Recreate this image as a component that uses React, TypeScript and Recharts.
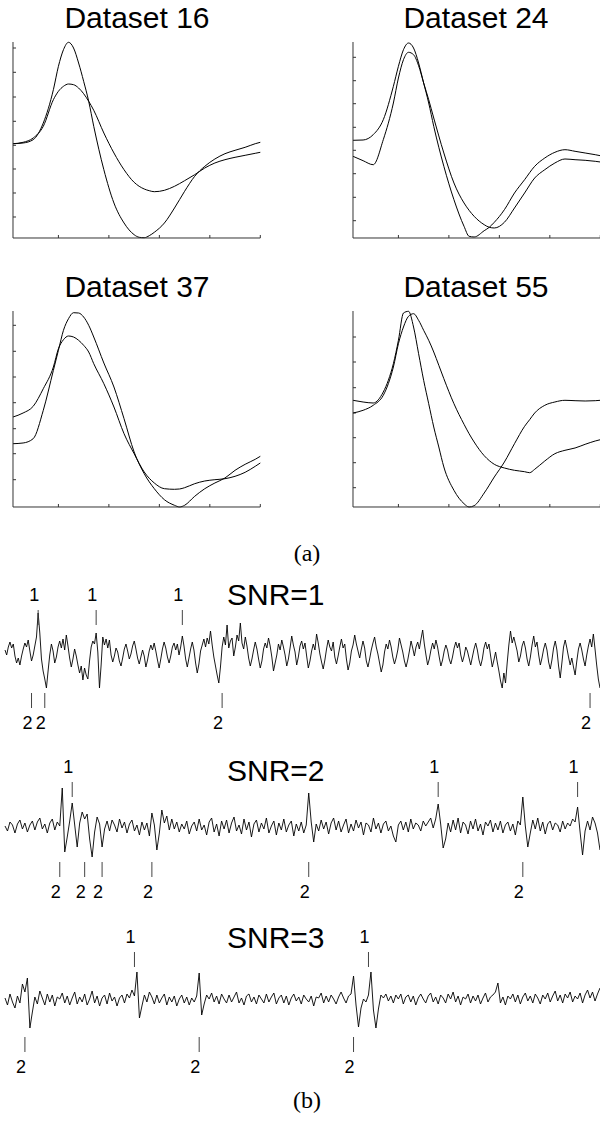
import React from 'react';
import { LineChart, Line, XAxis, YAxis, ComposedChart, Scatter, ReferenceLine } from 'recharts';

// ---------- (a) average waveforms, sample index 1..50 ----------
const X_TICKS = [10, 20, 30, 40, 50];

const d16X = [1, 3, 5, 7, 9, 10, 11, 12, 13, 14, 15, 16, 17, 19, 21, 23, 25, 26, 27, 28, 29, 31, 33, 35, 37, 39, 41, 43, 45, 47, 49, 50];
const d16A = [9.43, 9.5, 9.83, 11.5, 14.83, 17.17, 18.83, 19.57, 19.0, 17.5, 15.67, 13.67, 11.17, 6.83, 3.5, 1.5, 0.33, 0.07, 0.03, 0.23, 0.57, 1.5, 3.0, 4.67, 6.17, 7.17, 7.9, 8.43, 8.77, 9.07, 9.43, 9.57];
const d16B = [9.43, 9.57, 10.0, 11.17, 13.83, 14.67, 15.17, 15.4, 15.33, 15.0, 14.43, 13.67, 12.77, 10.5, 8.5, 6.83, 5.57, 5.17, 4.9, 4.73, 4.63, 4.77, 5.17, 5.73, 6.33, 7.0, 7.5, 7.83, 8.07, 8.27, 8.47, 8.57];
const d16Ticks = [2.1, 4.5, 6.9, 9.27, 11.67, 14.1, 16.57, 19.0];

const d24X = [1, 3, 5, 7, 9, 10, 11, 12, 13, 14, 15, 16, 17, 19, 21, 23, 24, 25, 27, 28, 29, 31, 33, 35, 37, 39, 41, 43, 45, 47, 49, 50];
const d24A = [9.77, 9.8, 10.33, 11.83, 15.17, 17.17, 18.83, 19.5, 19.0, 17.5, 15.5, 13.5, 11.17, 7.17, 3.83, 1.17, 0.17, 0.1, 0.73, 1.07, 1.57, 2.83, 4.5, 5.83, 7.17, 8.0, 8.57, 8.83, 8.67, 8.5, 8.33, 8.23];
const d24B = [8.17, 7.73, 7.33, 9.83, 13.5, 16.0, 17.83, 18.57, 18.33, 17.23, 15.5, 13.83, 12.0, 8.5, 5.5, 3.5, 2.77, 2.17, 1.33, 1.07, 1.0, 1.57, 3.0, 4.5, 6.0, 6.83, 7.5, 7.9, 7.83, 7.77, 7.67, 7.6];
const d24Ticks = [1.73, 4.07, 6.43, 8.77, 11.07, 13.43, 15.73, 18.07];

const d37X = [1, 3, 5, 7, 9, 10, 11, 12, 13, 14, 15, 16, 17, 19, 21, 23, 25, 27, 29, 31, 33, 34, 35, 37, 39, 41, 43, 45, 47, 49, 50];
const d37A = [6.33, 6.4, 6.83, 9.67, 13.67, 15.67, 17.67, 18.83, 19.43, 19.4, 19.0, 18.17, 17.0, 14.4, 12.0, 8.83, 5.5, 3.33, 1.83, 0.73, 0.17, 0, 0.17, 1.07, 1.83, 2.4, 2.9, 3.67, 4.27, 4.77, 5.07];
const d37B = [9.0, 9.4, 10.07, 11.83, 14.0, 15.83, 16.73, 17.1, 17.0, 16.67, 16.17, 15.5, 14.33, 12.33, 10.0, 7.33, 5.33, 3.5, 2.4, 1.83, 1.77, 1.8, 1.93, 2.33, 2.6, 2.73, 2.83, 3.07, 3.47, 4.07, 4.4];
const d37Ticks = [2.73, 5.33, 7.83, 10.43, 13.0, 15.57, 18.17];

const d55X = [1, 3, 5, 7, 8, 9, 10, 11, 12, 13, 14, 15, 16, 17, 18, 19, 21, 23, 24, 25, 27, 29, 31, 33, 35, 36, 37, 39, 41, 43, 45, 47, 49, 50];
const d55A = [10.67, 10.5, 10.4, 11.5, 12.67, 14.33, 16.67, 19.4, 19.57, 18.0, 15.33, 12.67, 10.33, 8.0, 6.0, 4.0, 1.67, 0.33, 0, 0.13, 1.4, 3.0, 4.5, 6.33, 8.07, 8.73, 9.4, 10.17, 10.5, 10.67, 10.63, 10.6, 10.63, 10.67];
const d55B = [9.4, 9.67, 10.17, 11.17, 12.33, 14.0, 16.33, 18.0, 19.07, 19.33, 18.67, 17.67, 16.67, 15.5, 14.17, 12.83, 10.33, 8.27, 7.33, 6.5, 5.13, 4.27, 3.9, 3.67, 3.53, 3.43, 3.77, 4.6, 5.33, 5.67, 5.9, 6.27, 6.6, 6.73];
const d55Ticks = [1.93, 4.43, 6.93, 9.4, 11.93, 14.5, 17.0];

// ---------- (b) noisy recordings ----------
const snr1 = [
  0.3, -0.2, 0.6, 1.1, 0.5, 0.9, -0.3, -1.0, -0.5, -1.2,
  -0.3, 0.4, 1.0, 0.6, 1.3, 0.2, -0.8, -0.2, 0.7, 1.6,
  4.0, 2.0, -0.6, -1.8, -2.6, -3.5, -1.8, -0.2, 0.9, 0.2,
  -1.0, -0.4, 0.6, 1.2, 0.5, 1.4, 0.3, 1.8, 0.7, -0.5,
  -1.4, -0.6, 0.4, -0.3, -1.2, -2.0, -1.3, -2.7, -1.5, -2.2,
  -2.6, -0.8, 0.6, 1.2, 0.9, 2.0, 0.1, -3.5, -1.2, 1.6,
  0.8, 1.4, 0.5, 1.3, -0.2, -0.9, -0.3, 0.5, 0.1, -0.8,
  -1.3, -0.5, 0.4, 0.9, 0.2, -0.6, -0.1, 0.7, 1.2, 0.4,
  -0.5, -1.1, -0.4, 0.3, -0.3, -1.4, -0.7, 0.2, 0.8, 0.3,
  1.0, 0.2, -0.7, -1.5, -0.6, 0.4, 1.1, 0.5, -0.4, -1.0,
  -0.3, 0.6, 1.0, 0.3, 0.9, -0.2, 0.6, 1.7, 0.7, -0.6,
  -1.4, -0.5, 0.4, 1.1, 0.3, -1.0, -2.0, -1.1, 0.2, 0.8,
  1.4, 0.6, 1.5, 0.9, 2.2, 0.8, -0.4, -1.3, -2.2, -3.0,
  -1.4, 0.6, 1.6, 0.8, 2.8, 0.5, 1.2, 1.5, -0.3, 0.6,
  1.8, 1.2, 3.0, 1.0, 0.4, 1.6, 0.7, -0.5, -1.3, -0.6,
  0.3, 1.1, 0.4, -0.6, -1.5, -0.8, 0.4, 1.0, 0.5, 1.5,
  0.7, -0.4, -1.8, -1.0, -0.2, 0.9, 0.3, 1.3, 0.6, -0.2,
  -1.3, -0.6, 0.5, 1.7, 0.8, 0.1, -1.2, -0.4, 0.7, 1.2,
  0.4, 1.0, -0.3, -1.5, -0.8, 0.2, 0.9, 0.3, 1.9, 1.0,
  -0.1, -0.9, -1.6, -0.7, 0.4, 1.3, 0.6, 0.2, 1.1, -0.4,
  -1.1, -0.3, 0.6, 1.4, 0.5, 0.9, -0.6, -1.7, -1.0, 0.2,
  0.8, 1.8, 0.9, 0.2, -0.5, 0.4, 1.2, 0.5, -0.8, -1.4,
  -0.6, 0.3, 1.0, 1.6, 0.6, -0.1, -1.0, -1.9, -1.2, 0.1,
  0.9, 0.4, 1.3, 0.6, -0.4, -1.1, -0.5, 0.3, 1.5, 0.8,
  0.1, -0.8, -1.4, -0.7, 0.2, 1.2, 0.5, -0.3, 0.6, 1.1,
  0.4, 1.4, 2.3, 0.9, -0.2, -1.2, -0.6, 0.3, 1.0, 0.4,
  1.3, 0.6, -0.4, -1.3, -0.7, 0.2, 0.8, 0.3, -0.6, -1.1,
  -0.4, 0.5, 1.1, 0.5, 1.0, -0.2, -0.9, -0.3, 0.6, 0.2,
  -0.5, -1.2, -0.4, 0.4, 1.0, 0.3, -0.7, -1.3, -0.6, 0.5,
  1.1, 0.4, 0.9, -0.3, -1.4, -0.7, 0.1, -0.9, -1.8, -2.8,
  -3.5, -2.0, -3.0, -1.0, 0.8, 2.2, 1.0, 1.6, 0.9, 0.2,
  -0.9, -0.3, 0.7, 1.2, 0.5, -0.6, -1.3, -0.4, 0.8, 1.7,
  0.6, 1.1, -0.2, -1.2, -0.5, 0.4, 1.0, 0.3, -0.9, -1.6,
  -0.7, 0.5, 1.2, 0.3, -1.3, -2.5, -1.0, 0.6, 1.3, 0.5,
  -0.4, -1.2, -0.5, -1.4, -2.2, -0.8, 0.4, 1.0, 0.3, -0.6,
  -1.3, -0.2, 0.7, 1.4, 0.6, 1.9, 0.4, -1.2, -2.6, -3.5,
];
const snr1Ones = [20, 55, 107];
const snr1Twos = [16, 24, 131, 353];

const snr2 = [
  0.1, -0.4, 0.5, 0.2, -0.6, 0.3, 0.7, -0.2, 0.4, -0.5,
  0.2, 0.6, -0.3, 0.5, 0.9, -0.2, 0.3, -0.6, 0.4, 0.8,
  -0.3, 0.5, 0.1, 3.9, -2.5, -1.0, 0.6, 2.4, 0.2, -2.0,
  0.4, 1.5, 0.8, 1.3, -1.2, -3.0, -0.5, 1.0, 0.3, -2.0,
  -0.2, 0.6, -0.4, 0.7, 0.2, -0.5, 0.8, -0.1, 0.5, -0.6,
  0.3, 0.7, -0.4, 0.2, -0.8, 0.5, -0.3, 0.4, -0.9, 1.4,
  0.2, -2.3, -0.6, 1.7, 0.4, 1.1, -0.3, 0.8, -0.2, 0.5,
  -0.5, 0.3, -0.2, 0.6, -0.7, 0.1, 0.5, -0.4, 0.8, -0.3,
  0.2, -0.8, 0.5, 0.9, -0.5, 0.3, -0.9, 0.6, -0.2, 0.7,
  -0.6, 0.4, 1.0, -0.4, 0.2, -0.7, 0.8, -0.3, 0.5, -1.0,
  0.3, 0.7, -0.5, 0.4, -0.2, 0.9, -0.6, 0.1, 0.6, -0.8,
  0.4, -0.3, 0.8, -0.5, 0.2, 0.6, -0.9, 0.3, -0.4, 0.5,
  -0.6, 0.2, 3.4, 0.5, -1.5, 0.3, -0.4, 0.7, -0.2, 0.5,
  -0.7, 0.4, 0.9, -0.3, 0.6, -0.5, 0.2, 0.8, -0.6, 0.3,
  -0.4, 0.7, -0.1, 0.5, -0.8, 0.4, 0.2, -0.5, 0.9, -0.2,
  0.4, -0.6, 0.3, 0.6, -0.4, 0.1, -0.9, -1.5, 0.2, 0.6,
  -0.3, 0.5, -0.5, 0.8, -0.2, 0.4, 0.2, -0.4, 0.6, 0.1,
  0.5, 0.9, -0.1, 0.8, 2.3, 0.3, -2.1, -1.2, 0.4, -0.5,
  0.7, -0.3, 0.9, -0.6, 0.5, 0.2, -0.7, 0.6, -0.2, 0.8,
  -0.4, 0.3, -0.8, 0.5, 0.1, 0.7, -0.5, 0.4, -0.3, 0.6,
  -0.6, 0.2, 0.5, -0.4, 0.3, -0.8, 0.6, 0.2, 3.0, 0.1,
  -2.0, -0.6, 0.7, -0.2, 0.9, -0.4, 0.5, -0.7, 0.3, 0.6,
  -0.3, 0.4, 0.2, -0.5, 0.6, -0.2, 0.4, 0.1, 0.8, 0.5,
  2.0, -0.5, -2.8, -0.4, 0.6, -0.3, 1.0, 0.4, -0.6, -2.3,
];
const snr2Ones = [27, 174, 230];
const snr2Twos = [22, 32, 39, 59, 122, 208];

const snr3 = [
  0.2, -0.5, 0.6, -0.2, -0.8, 0.4, -0.3, 1.6, 0.8, 2.2,
  -2.8, -1.2, 0.3, -0.4, 0.9, 0.2, -0.5, 0.6, -0.2, 0.5,
  -0.6, 0.3, 0.1, 0.7, -0.3, 0.4, -0.5, 0.2, 0.8, -0.4,
  0.3, -0.2, 0.6, -0.5, 0.1, 0.9, -0.3, 0.4, -0.6, 0.2,
  0.5, -0.4, 0.7, -0.1, 0.3, -0.6, 0.2, 0.5, -0.3, 0.6,
  0.2, 1.0, 0.4, 2.8, -1.8, -0.6, 0.5, -0.2, 0.8, 0.3,
  -0.4, 0.5, -0.3, 0.2, 0.6, -0.5, 0.3, -0.2, 0.4, -0.6,
  0.1, 0.5, -0.3, 0.3, -0.5, 0.2, -0.2, 0.4, 2.7, -1.5,
  -0.4, 0.5, 0.1, 0.7, -0.2, 0.4, -0.4, 0.6, 0.1, -0.3,
  0.5, -0.2, 0.3, 0.8, -0.3, 0.2, -0.5, 0.4, 0.6, -0.2,
  0.3, -0.4, 0.5, 0.1, -0.3, 0.6, -0.2, 0.3, 0.7, -0.4,
  0.2, 0.5, -0.3, 0.4, -0.5, 0.2, 0.6, -0.1, 0.3, -0.4,
  0.5, 0.1, -0.2, 0.4, -0.6, 0.3, 0.2, 0.7, -0.3, 0.4,
  -0.2, 0.5, 0.1, -0.4, 0.3, 0.8, 0.2, -0.3, 0.4, 0.6,
  2.4, -0.5, -2.7, -0.8, 0.1, -0.2, 0.5, 2.8, -1.0, -2.8,
  -0.9, 0.5, 0.2, 0.6, -0.1, 0.4, -0.3, 0.5, 0.1, 0.6,
  -0.4, 0.3, 0.5, -0.2, 0.4, -0.5, 0.2, 0.6, 0.1, -0.3,
  0.4, 0.7, -0.2, 0.3, -0.4, 0.5, 0.2, -0.3, 0.6, 0.1,
  0.8, -0.2, 0.4, -0.5, 0.3, 0.1, 0.6, -0.3, 0.4, -0.1,
  0.5, -0.4, 0.2, 0.7, -0.2, 0.3, 0.5, 0.8, 1.7, -0.3,
  0.3, -0.5, 0.4, 0.1, 0.6, -0.2, 0.5, -0.4, 0.3, 0.7,
  -0.1, 0.4, -0.3, 0.6, 0.2, -0.4, 0.5, 0.1, 0.7, -0.2,
  0.4, 0.9, -0.1, 0.5, -0.3, 0.6, 0.2, 0.8, -0.2, 0.4,
  0.1, 0.7, -0.3, 0.5, 1.0, 0.2, 0.8, -0.1, 0.6, 1.2,
];
const snr3Ones = [52, 146];
const snr3Twos = [8, 78, 140];

const SANS = '"Liberation Sans", Arial, sans-serif';
const SERIF = '"Liberation Serif", "Times New Roman", serif';

const PLOT_W = 247.3;
const PLOT_H = 196;
const PAD = 4;
const AXIS = '#333';

type PanelProps = { x: number[]; a: number[]; b: number[]; yTicks: number[]; left: number; top: number };

const Panel = ({ x, a, b, yTicks, left, top }: PanelProps) => {
  const data = x.map((xi, k) => ({ x: xi, a: a[k], b: b[k] }));
  return (
    <div style={{ position: 'absolute', left: left - PAD, top: top - PAD }}>
      <LineChart width={PLOT_W + 2 * PAD} height={PLOT_H + 2 * PAD} data={data}
        margin={{ top: PAD, right: PAD, bottom: PAD - 1, left: PAD - 1 }}>
        <XAxis dataKey="x" type="number" domain={[1, 50]} ticks={X_TICKS} interval={0}
          height={1} tick={false} tickLine={false} stroke={AXIS} />
        <YAxis type="number" domain={[0, 19.6]} ticks={yTicks} interval={0}
          width={1} tick={false} tickLine={false} stroke={AXIS} />
        {/* inward tick marks */}
        {X_TICKS.map((t) => (
          <ReferenceLine key={`xt${t}`} segment={[{ x: t, y: 0 }, { x: t, y: 0.3 }]} stroke={AXIS} strokeWidth={1} />
        ))}
        {yTicks.map((t) => (
          <ReferenceLine key={`yt${t}`} segment={[{ x: 1, y: t }, { x: 1.6, y: t }]} stroke={AXIS} strokeWidth={1} />
        ))}
        <Line type="monotone" dataKey="a" stroke="#000" strokeWidth={1} dot={false} isAnimationActive={false} />
        <Line type="monotone" dataKey="b" stroke="#000" strokeWidth={1} dot={false} isAnimationActive={false} />
      </LineChart>
    </div>
  );
};

// event markers: "1" above the trace, "2" below
const MarkOne = (p: any) => (
  <g>
    <line x1={p.cx} y1={p.cy} x2={p.cx} y2={p.cy + 15} stroke="#444" strokeWidth={1} />
    <text x={p.cx - 4} y={p.cy - 9} textAnchor="middle" fontSize={18} fontFamily={SANS} fill="#000">1</text>
  </g>
);
const MarkTwo = (p: any) => (
  <g>
    <line x1={p.cx} y1={p.cy} x2={p.cx} y2={p.cy + 15} stroke="#444" strokeWidth={1} />
    <text x={p.cx - 4} y={p.cy + 36} textAnchor="middle" fontSize={18} fontFamily={SANS} fill="#000">2</text>
  </g>
);

type TraceProps = { values: number[]; ones: number[]; twos: number[]; oneLevel: number; twoLevel: number; top: number };

const Trace = ({ values, ones, twos, oneLevel, twoLevel, top }: TraceProps) => {
  const data = values.map((v, i) => ({ i, v }));
  const onePts = ones.map((i) => ({ i, v: oneLevel }));
  const twoPts = twos.map((i) => ({ i, v: twoLevel }));
  return (
    <div style={{ position: 'absolute', left: 0, top }}>
      <ComposedChart width={600} height={170} data={data} margin={{ top: 0, right: 0, bottom: 0, left: 5 }}>
        <XAxis dataKey="i" type="number" domain={[0, values.length - 1]} hide />
        <YAxis type="number" domain={[-9, 8]} hide />
        <Line type="linear" dataKey="v" stroke="#000" strokeWidth={0.9} dot={false} isAnimationActive={false} />
        <Scatter data={onePts} dataKey="v" shape={MarkOne} isAnimationActive={false} />
        <Scatter data={twoPts} dataKey="v" shape={MarkTwo} isAnimationActive={false} />
      </ComposedChart>
    </div>
  );
};

export default function App() {
  return (
    <div style={{ position: 'fixed', left: 0, top: 0, width: 600, height: 1121, background: '#fff', overflow: 'hidden' }}>
      <Panel x={d16X} a={d16A} b={d16B} yTicks={d16Ticks} left={12.7} top={42.3} />
      <Panel x={d24X} a={d24A} b={d24B} yTicks={d24Ticks} left={352.7} top={42.3} />
      <Panel x={d37X} a={d37A} b={d37B} yTicks={d37Ticks} left={12.7} top={310.7} />
      <Panel x={d55X} a={d55A} b={d55B} yTicks={d55Ticks} left={352.7} top={310.7} />

      <Trace values={snr1} ones={snr1Ones} twos={snr1Twos} oneLevel={4.3} twoLevel={-4.0} top={573} />
      <Trace values={snr2} ones={snr2Ones} twos={snr2Twos} oneLevel={4.5} twoLevel={-3.5} top={747} />
      <Trace values={snr3} ones={snr3Ones} twos={snr3Twos} oneLevel={4.8} twoLevel={-3.7} top={920} />

      <svg width={600} height={1121} style={{ position: 'absolute', left: 0, top: 0, pointerEvents: 'none' }}>
        <g fontFamily={SANS} fontSize={30} fill="#000">
          <text x={137} y={28} textAnchor="middle">Dataset 16</text>
          <text x={476} y={28} textAnchor="middle">Dataset 24</text>
          <text x={137} y={297} textAnchor="middle">Dataset 37</text>
          <text x={476} y={297} textAnchor="middle">Dataset 55</text>
          <text x={227} y={605}>SNR=1</text>
          <text x={227} y={781}>SNR=2</text>
          <text x={227} y={948}>SNR=3</text>
        </g>
        <g fontFamily={SERIF} fontSize={24} fill="#000">
          <text x={307} y={561} textAnchor="middle">(a)</text>
          <text x={307} y={1108} textAnchor="middle">(b)</text>
        </g>
      </svg>
    </div>
  );
}
